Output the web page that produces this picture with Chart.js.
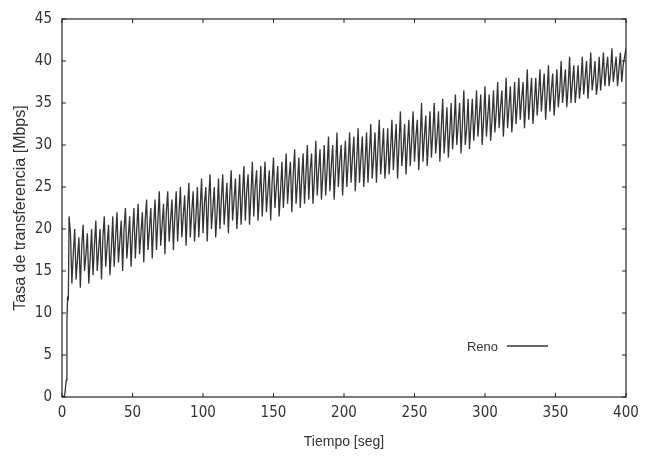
<!DOCTYPE html>
<html><head><meta charset="utf-8">
<script src="https://cdn.jsdelivr.net/npm/chart.js@4"></script>
<style>html,body{margin:0;padding:0;background:#fff}#w{width:652px;height:456px}</style>
</head><body><div id="w"><canvas id="c" width="652" height="456"></canvas></div>
<script>
const seriesName = "Reno";
const xTitle = "Tiempo [seg]";
const yTitle = "Tasa de transferencia [Mbps]";
const xTicks = [0,50,100,150,200,250,300,350,400];
const yTicks = [0,5,10,15,20,25,30,35,40,45];
// start-up phase (t = 0..5 s)
const startTimes = [0,1,2,3,3.5,4,4.5,5];
const startValues = [0,0,0.3,2,9,12,11.5,21.5];
// oscillating phase, one sample per second from t = 6 to t = 400
const renoValues = [
 19.5,13.5,17, 20,14,16.5, 19,13,18, 20.5,15,17, 19.5,13.5,16.5,
 20,14.5,18, 21,15,17.5, 20,14,19, 21.5,15.5,18, 20.5,14.5,17.5,
 21.5,15.5,19, 22,16,18.5, 21,15,20, 22.5,16.5,19, 21.5,15.5,19.5,
 22.5,16.5,20, 23,17,19.5, 22,16,21, 23.5,17.5,20, 22.5,16.5,20.5,
 23.5,17.5,21, 24.5,18,20.5, 23,17,22, 24.5,18.5,21, 23.5,17.5,21.5,
 24.5,18.5,22, 25,19,21.5, 24,18,22.5, 25.5,19,22, 24.5,18.5,21.5,
 25,19,22.5, 26,19.5,23, 25,18.5,23.5, 26.5,20,22.5, 25,19,22,
 26,20,23.5, 26.5,20.5,23, 25.5,19.5,24, 27,21,23.5, 26,20,23,
 26.5,20.5,24, 27.5,21,24.5, 26.5,20.5,24, 28,21.5,25, 27,21,24,
 27.5,21.5,25, 28,22,24.5, 27,21,25.5, 28.5,22.5,25, 27.5,21.5,24.5,
 28,22.5,25.5, 29,23,26, 28,22,26.5, 29.5,23,25.5, 28.5,22.5,26,
 29,23,26.5, 30,23.5,27, 29,23,26, 30.5,24,27, 29.5,23.5,26.5,
 30,24,27, 31,24.5,27.5, 30,23.5,27, 31.5,25,28, 30,24,27.5,
 30.5,25,28, 31.5,25.5,28.5, 31,24.5,28, 32,25.5,28.5, 31,25,28,
 31.5,25.5,29, 32.5,26,28.5, 31.5,25.5,29.5, 33,26.5,29, 32,26,28.5,
 32,26.5,29.5, 33,27,30, 32.5,26,30, 34,27.5,29.5, 32.5,26.5,30,
 33,27.5,30.5, 34,28,31, 33,27,30.5, 35,28,31, 33.5,27.5,30.5,
 34,28.5,31.5, 35,29,31, 34,28,32, 35.5,29,31.5, 34.5,28.5,31.5,
 35,29.5,32, 36,30,32.5, 35,29,32.5, 36.5,30,32, 35.5,29.5,32.5,
 35.5,30.5,33, 36.5,31,33.5, 36,30,33, 37,31,33.5, 36,30.5,33,
 36.5,31.5,34, 37.5,32,34.5, 36.5,31,34, 38,32,34.5, 37,31.5,34,
 37.5,32.5,35, 38,33,35.5, 37.5,32,35, 39,33,35.5, 38,32.5,35,
 38,33.5,36, 39,34,36.5, 38.5,33,36, 39.5,34,36.5, 38.5,33.5,36,
 39,34.5,36.5, 40,35,37, 39,34.5,37, 40.5,35,37.5, 39.5,35,37,
 39.5,35.5,37.5, 40.5,36,38, 40,35.5,38, 41,36.5,38, 40,36,37.5,
 40.5,36.5,38.5, 41,37,39, 40.5,37,38.5, 41.5,37.5,39, 40.5,37,39,
 41,37.5,39.5, 40.5,41.5
];
const points = startTimes.map((t,i)=>({x:t,y:startValues[i]}));
renoValues.forEach((v,i)=>points.push({x:6+i,y:v}));

const tickFont = '"Liberation Sans Narrow", "DejaVu Sans Condensed", "Liberation Sans", sans-serif';
const textFont = '"Liberation Sans", Arial, sans-serif';

const frame = {
  id:'frame',
  afterDraw(chart){
    const {ctx, chartArea:a, scales:{x,y}} = chart;
    ctx.save();
    ctx.strokeStyle='#222'; ctx.lineWidth=1.2;
    ctx.strokeRect(a.left,a.top,a.right-a.left,a.bottom-a.top);
    ctx.lineWidth=1;
    xTicks.forEach(v=>{const p=x.getPixelForValue(v);
      ctx.beginPath();ctx.moveTo(p,a.bottom);ctx.lineTo(p,a.bottom-4);ctx.moveTo(p,a.top);ctx.lineTo(p,a.top+4);ctx.stroke();});
    yTicks.forEach(v=>{const p=y.getPixelForValue(v);
      ctx.beginPath();ctx.moveTo(a.left,p);ctx.lineTo(a.left+4,p);ctx.moveTo(a.right,p);ctx.lineTo(a.right-4,p);ctx.stroke();});
    // legend
    ctx.fillStyle='#333'; ctx.font='13px '+textFont;
    ctx.textAlign='right'; ctx.textBaseline='middle';
    ctx.fillText(seriesName, 498, 347);
    ctx.strokeStyle='#333'; ctx.lineWidth=1.3;
    ctx.beginPath(); ctx.moveTo(507,346); ctx.lineTo(548,346); ctx.stroke();
    ctx.restore();
  }
};

new Chart(document.getElementById('c'),{
  type:'line',
  data:{datasets:[{label:seriesName,data:points,borderColor:'#333333',borderWidth:1.3,pointRadius:0,tension:0}]},
  options:{
    responsive:false,animation:false,
    layout:{padding:{left:0,top:15,right:26,bottom:0}},
    plugins:{legend:{display:false},tooltip:{enabled:false}},
    scales:{
      x:{type:'linear',min:0,max:400,
        afterBuildTicks(s){s.ticks=xTicks.map(v=>({value:v}));},
        afterFit(s){s.height=59;},
        grid:{display:false,drawTicks:false},border:{display:false},
        ticks:{color:'#333',padding:7,maxRotation:0,font:{size:15,family:tickFont}},
        title:{display:true,text:xTitle,color:'#333',padding:{top:4,bottom:5},font:{size:14,family:textFont}}},
      y:{type:'linear',min:0,max:45,
        afterBuildTicks(s){s.ticks=yTicks.map(v=>({value:v}));},
        afterFit(s){s.width=62;},
        grid:{display:false,drawTicks:false},border:{display:false},
        ticks:{color:'#333',padding:10,font:{size:15,family:tickFont}},
        title:{display:true,text:yTitle,color:'#333',padding:{top:11,bottom:0},font:{size:16,family:textFont}}}
    }
  },
  plugins:[frame]
});
</script></body></html>
